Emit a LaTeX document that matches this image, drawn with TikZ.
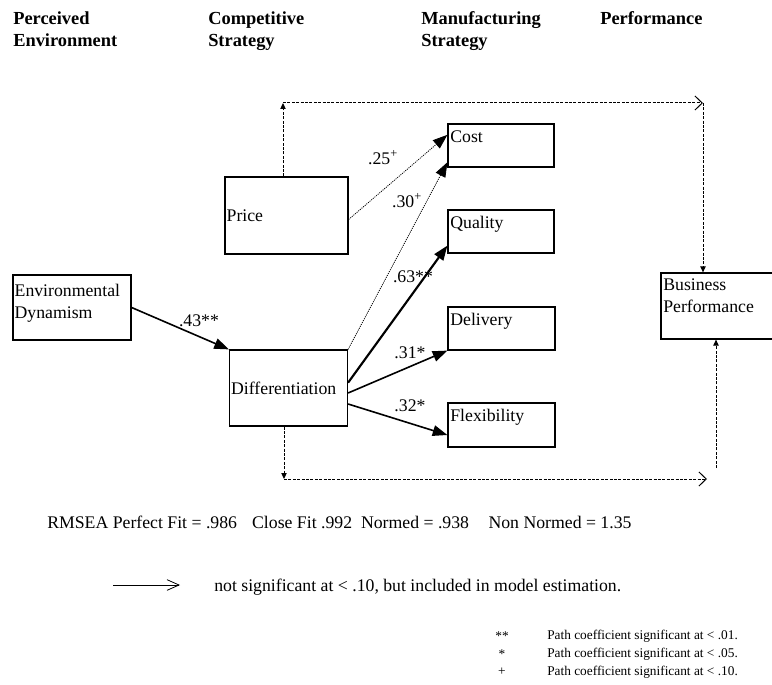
\documentclass[tikz,border=0pt]{standalone}
\usepackage{fontspec}
\setmainfont{Liberation Serif}
\usetikzlibrary{arrows.meta,calc}
\begin{document}
\begin{tikzpicture}[x=0.75pt,y=-0.75pt,
 box/.style={draw, line width=0.9pt, inner sep=0pt},
 txt/.style={font=\fontsize{13.3}{16.5}\selectfont, align=left},
 head/.style={font=\fontsize{13.8}{16.5}\selectfont\bfseries, align=left, anchor=north west, inner sep=0pt},
 big/.style={-{Triangle[length=11pt,width=8pt]}},
 solidarrow/.style={big, line width=1.2pt},
 thickarrow/.style={big, line width=1.6pt},
 dotarrow/.style={big, line width=0.6pt, dash pattern=on 0.8pt off 0.8pt},
 dsh/.style={line width=0.75pt, dash pattern=on 2.2pt off 1.1pt},
 smalltip/.style={-{Triangle[length=4.5pt,width=4pt]}},
 barb/.style={-{Straight Barb[length=5.5pt,width=10.5pt,line width=0.75pt]}},
 coef/.style={font=\fontsize{13.3}{16}\selectfont, inner sep=0pt},
 legend/.style={font=\fontsize{10}{12}\selectfont, inner sep=0pt}
]
\useasboundingbox (0,0) rectangle (772,685);

% headings
\node[head] (h1) at (13,11) {Perceived\\Environment};
\node[head] (h2) at (208,11) {Competitive\\Strategy};
\node[head] (h3) at (421,11) {Manufacturing\\Strategy};
\node[head] (h4) at (600,11) {Performance};

% boxes
\node[box, minimum width=88.5pt, minimum height=48.75pt,
  label={[txt,anchor=north west,inner xsep=1.5pt,inner ysep=7pt]north west:Environmental\\Dynamism}] (env) at (72,307.5) {};
\node[box, minimum width=92.25pt, minimum height=57.75pt,
  label={[txt,anchor=west,inner xsep=1.5pt]west:Price}] (price) at (286.5,215.5) {};
\node[box, minimum width=88.5pt, minimum height=57pt,
  label={[txt,anchor=west,inner xsep=1.5pt]west:Differentiation}] (diff) at (288.5,388) {};
\node[box, minimum width=79.5pt, minimum height=32.25pt,
  label={[txt,anchor=north west,inner xsep=2pt,inner ysep=5pt]north west:Cost}] (cost) at (501,145.5) {};
\node[box, minimum width=79.5pt, minimum height=32.25pt,
  label={[txt,anchor=north west,inner xsep=2pt,inner ysep=5pt]north west:Quality}] (quality) at (501,231.5) {};
\node[box, minimum width=80.25pt, minimum height=32.25pt,
  label={[txt,anchor=north west,inner xsep=2pt,inner ysep=5pt]north west:Delivery}] (delivery) at (501.5,328.5) {};
\node[box, minimum width=80.25pt, minimum height=33pt,
  label={[txt,anchor=north west,inner xsep=2pt,inner ysep=5pt]north west:Flexibility}] (flex) at (501.5,425) {};
\node[box, minimum width=86.25pt, minimum height=49.5pt,
  label={[txt,anchor=north west,inner xsep=2pt,inner ysep=4.5pt]north west:Business\\Performance}] (bus) at (718.5,306) {};

% coefficient labels
\node[coef] (c43) at (199,321) {.43**};
\node[coef] (c25) at (383,158) {.25\textsuperscript{+}};
\node[coef] (c30) at (407,201) {.30\textsuperscript{+}};
\node[coef] (c63) at (413,277) {.63**};
\node[coef] (c31) at (410,353) {.31*};
\node[coef] (c32) at (410,406) {.32*};

% paths
\draw[solidarrow] (env.east) -- (diff.north west);
\draw[dotarrow] ([yshift=-3pt]price.east) -- ([yshift=8pt]cost.west);
\draw[dotarrow] (diff.north east) -- ([yshift=4pt]cost.south west);
\draw[thickarrow] ([yshift=4pt]diff.east) -- ([yshift=6pt]quality.south west);
\draw[solidarrow] ([yshift=-3.75pt]diff.east) -- (delivery.south west);
\draw[solidarrow] ([yshift=-12pt]diff.east) -- ([yshift=-7.5pt]flex.west);

% dashed non-significant paths
\coordinate (topL) at (283,103);
\coordinate (topR) at (703,103);
\coordinate (botL) at (284,479);
\coordinate (botR) at (707,479);
\coordinate (botU) at (716,468);
\draw[dsh, smalltip] (price.north -| topL) -- (topL);
\draw[dsh, barb] (topL) -- (topR);
\draw[dsh, smalltip] (topR) -- (bus.north -| topR);
\draw[dsh, smalltip] (diff.south -| botL) -- (botL);
\draw[dsh, barb] (botL) -- (botR);
\draw[dsh, smalltip] (botU) -- (bus.south -| botU);

% fit statistics
\node[txt, anchor=west, inner sep=0pt] (fit) at (47,522) {RMSEA Perfect Fit = .986\hspace{0.85em}Close Fit .992\hspace{0.5em}Normed = .938\hspace{1.1em}Non Normed = 1.35};

% legend
\coordinate (la) at (113,585);
\coordinate (lb) at (180,585);
\draw[line width=0.6pt, -{Straight Barb[length=9pt,width=8pt,line width=0.6pt]}] (la) -- (lb);
\node[txt, anchor=west, inner sep=0pt] (ns) at (214,587) {not significant at < .10, but included in model estimation.};

\node[legend] (s1) at (502,636) {**};
\node[legend] (s2) at (502,654) {*};
\node[legend] (s3) at (502,672) {+};
\node[legend, anchor=west] (t1) at (547,636) {Path coefficient significant at < .01.};
\node[legend, anchor=west] (t2) at (547,654) {Path coefficient significant at < .05.};
\node[legend, anchor=west] (t3) at (547,672) {Path coefficient significant at < .10.};
\end{tikzpicture}
\end{document}
